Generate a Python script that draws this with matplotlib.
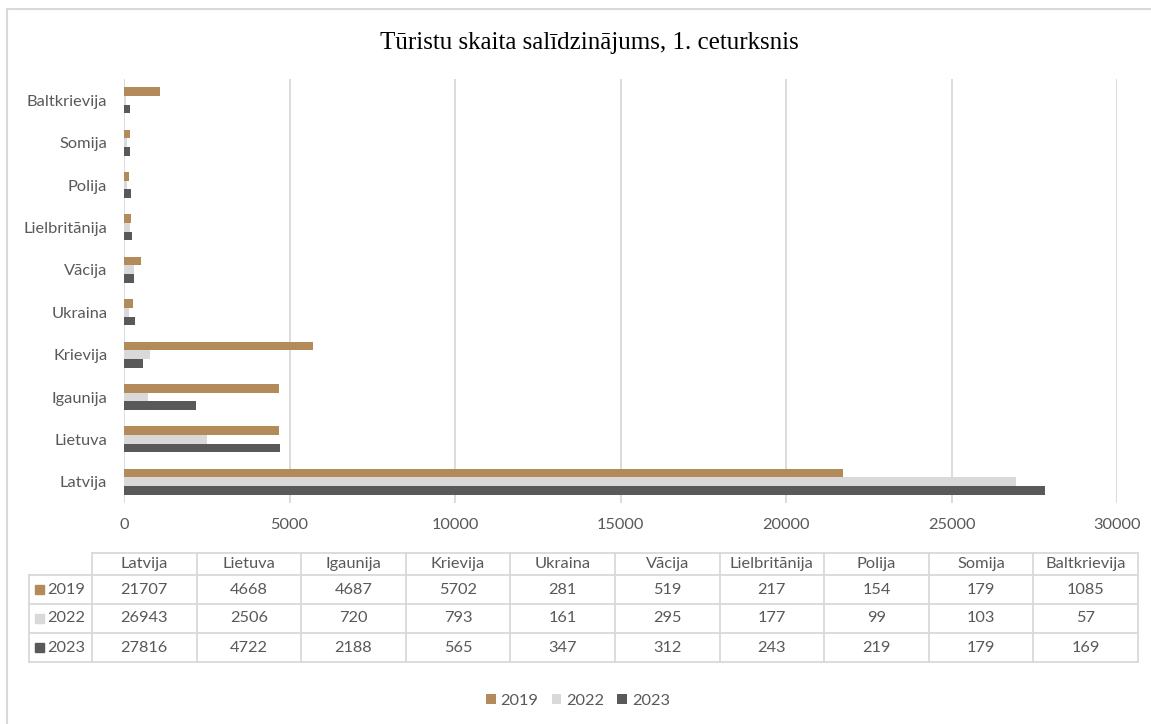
import numpy as np
import matplotlib.pyplot as plt
from matplotlib.patches import Rectangle, Patch
from matplotlib.lines import Line2D

countries = ['Latvija', 'Lietuva', 'Igaunija', 'Krievija', 'Ukraina', 'Vācija',
             'Lielbritānija', 'Polija', 'Somija', 'Baltkrievija']
years = ['2019', '2022', '2023']
v2019 = [21707, 4668, 4687, 5702, 281, 519, 217, 154, 179, 1085]
v2022 = [26943, 2506, 720, 793, 161, 295, 177, 99, 103, 57]
v2023 = [27816, 4722, 2188, 565, 347, 312, 243, 219, 179, 169]
series = [v2019, v2022, v2023]
colors = ['#B38B5A', '#D9D9D9', '#595959']

txt = '#595959'
grid = '#D9D9D9'
W, H = 1151, 724
fs = 11.8
plt.rcParams['font.family'] = ['Lato', 'DejaVu Sans']

fig = plt.figure(figsize=(W / 100, H / 100), dpi=100)

def fx(px):
    return px / W

def fy(py):
    return 1 - py / H

# outer chart border
fig.patches.append(Rectangle((fx(7), fy(760)), fx(1200), (760 - 9) / H,
                             transform=fig.transFigure, fill=False,
                             edgecolor=grid, linewidth=1.5))

ax = fig.add_axes([fx(124), fy(503), fx(1117 - 124), (503 - 79) / H])
y = np.arange(len(countries))
h = 0.205
offsets = [h, 0, -h]
for vals, c, off, lab in zip(series, colors, offsets, years):
    ax.barh(y + off, vals, height=h, color=c, label=lab, zorder=3)

ax.set_xlim(0, 30000)
ax.set_ylim(-0.5, 9.5)
ax.set_xticks(np.arange(0, 30001, 5000))
ax.set_yticks(y)
ax.set_yticklabels(countries)
ax.grid(axis='x', color=grid, linewidth=1.3, zorder=0)
for s in ax.spines.values():
    s.set_visible(False)
ax.tick_params(axis='both', length=0, colors=txt, labelsize=fs)
ax.tick_params(axis='y', pad=12)
ax.tick_params(axis='x', pad=11)

fig.text(fx(589), fy(43), 'Tūristu skaita salīdzinājums, 1. ceturksnis',
         ha='center', va='center', fontsize=18, family='Liberation Serif',
         color='black')

# data table
x0, x1 = 29, 92
col_w = (1138 - 92) / len(countries)
row_tops = [553, 575, 604, 633, 662]
lw = 1.3
for i, name in enumerate(countries):
    cx = x1 + (i + 0.5) * col_w
    fig.text(fx(cx), fy((row_tops[0] + row_tops[1]) / 2), name, ha='center',
             va='center', fontsize=fs, color=txt)
    for r, vals in enumerate(series):
        fig.text(fx(cx), fy((row_tops[r + 1] + row_tops[r + 2]) / 2), str(vals[i]),
                 ha='center', va='center', fontsize=fs, color=txt)
for r, (lab, c) in enumerate(zip(years, colors)):
    yc = (row_tops[r + 1] + row_tops[r + 2]) / 2
    fig.patches.append(Rectangle((fx(35), fy(yc + 4.5)), fx(9), 9 / H,
                                 transform=fig.transFigure, color=c))
    fig.text(fx(47), fy(yc), lab, ha='left', va='center', fontsize=fs, color=txt)

# horizontal table lines
fig.add_artist(Line2D([fx(x1), fx(1138)], [fy(row_tops[0])] * 2, color=grid, lw=lw))
for yy in row_tops[1:]:
    fig.add_artist(Line2D([fx(x0), fx(1138)], [fy(yy)] * 2, color=grid, lw=lw))
# vertical table lines
fig.add_artist(Line2D([fx(x0)] * 2, [fy(row_tops[1]), fy(row_tops[-1])], color=grid, lw=lw))
for i in range(len(countries) + 1):
    xx = x1 + i * col_w
    fig.add_artist(Line2D([fx(xx)] * 2, [fy(row_tops[0]), fy(row_tops[-1])], color=grid, lw=lw))

handles = [Patch(facecolor=c, label=l) for c, l in zip(colors, years)]
fig.legend(handles=handles, loc='center', bbox_to_anchor=(fx(578), fy(701)), ncol=3,
           frameon=False, fontsize=fs, labelcolor=txt, handlelength=0.6,
           handleheight=0.6, handletextpad=0.3, columnspacing=0.8)

fig.savefig('out.png', dpi=100)
